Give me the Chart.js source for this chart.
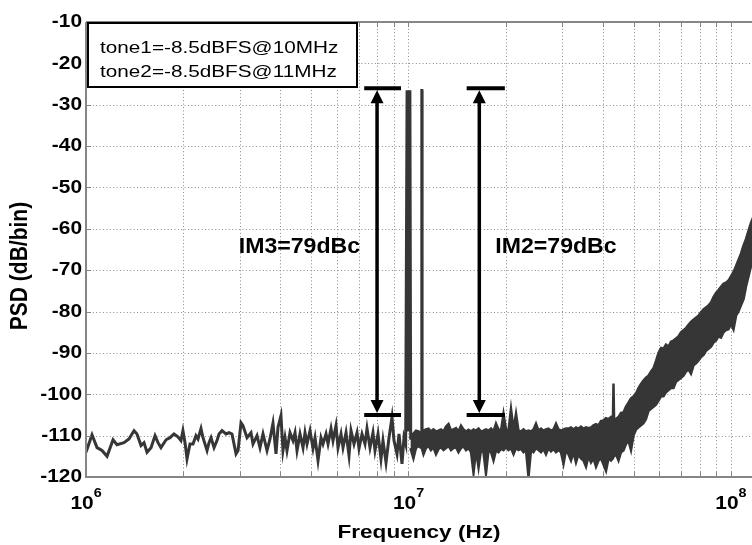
<!DOCTYPE html>
<html>
<head>
<meta charset="utf-8">
<title>PSD two-tone test</title>
<script src="https://cdn.jsdelivr.net/npm/chart.js@4.4.1/dist/chart.umd.min.js"></script>
<style>
  html, body { margin: 0; padding: 0; background: #fff; }
  #wrap { position: relative; width: 752px; height: 545px; }
</style>
</head>
<body>
<div id="wrap"><canvas id="psd"></canvas></div>
<script>
// axis ticks
const xGridHz = [1e6, 2e6, 3e6, 4e6, 5e6, 6e6, 7e6, 8e6, 9e6,
                 1e7, 2e7, 3e7, 4e7, 5e7, 6e7, 7e7, 8e7, 9e7, 1e8];
const xLabelExp = [6, 7, 8];
const yTicksDb = [-120, -110, -100, -90, -80, -70, -60, -50, -40, -30, -20, -10];

// sparse part of the spectrum (1 MHz .. just past the 10 MHz tone)
const traceFreqMHz = [1.000, 1.044, 1.082, 1.121, 1.162, 1.213, 1.248, 1.311, 1.359, 1.409,
  1.439, 1.481, 1.513, 1.546, 1.591, 1.637, 1.672, 1.708, 1.771, 1.822,
  1.874, 1.928, 1.970, 1.998, 2.028, 2.057, 2.101, 2.147, 2.193, 2.225,
  2.273, 2.306, 2.373, 2.407, 2.442, 2.495, 2.548, 2.585, 2.641, 2.717,
  2.776, 2.836, 2.919, 2.961, 3.025, 3.068, 3.157, 3.248, 3.295, 3.391,
  3.464, 3.539, 3.642, 3.720, 3.800, 3.883, 3.939, 4.023, 4.081, 4.141,
  4.200, 4.291, 4.384, 4.448, 4.512, 4.609, 4.709, 4.777, 4.846, 4.951,
  5.058, 5.131, 5.242, 5.355, 5.432, 5.550, 5.630, 5.751, 5.834, 5.960,
  6.046, 6.177, 6.266, 6.402, 6.540, 6.634, 6.778, 6.925, 7.024, 7.176,
  7.331, 7.437, 7.597, 7.761, 7.874, 8.044, 8.218, 8.336, 8.518, 8.701,
  8.889, 9.017, 9.213, 9.345, 9.547, 9.684, 9.80, 9.90, 10.0, 10.10, 10.16];
const traceDb = [-114, -109.8, -112.9, -113.6, -115, -111, -112.2, -111.7, -110.8, -108.8,
  -109.6, -112.4, -111.7, -114, -112.9, -110, -111.7, -112.9, -111, -110.5,
  -109.6, -110.3, -111.2, -108.8, -111.7, -115.6, -112, -112, -110, -110.8,
  -108.3, -110.5, -113.6, -111.7, -110.5, -112.9, -111.2, -109.6, -108.8, -109.6,
  -109.3, -109.6, -114.4, -113.6, -106.9, -107.6, -110.5, -109.3, -112, -110,
  -112.9, -109.6, -113.6, -110.8, -107, -114.4, -108, -105.2, -113.6, -110.5,
  -113.6, -109.3, -111.2, -109.3, -113.6, -109.6, -112.9, -109.3, -112, -108.8,
  -113.1, -110.5, -116, -110.5, -112, -109.6, -112, -108.3, -111.2, -107.6,
  -112.9, -109.6, -112.9, -109.3, -114.8, -108.8, -112, -109.3, -113.1, -109.6,
  -112, -108.3, -112.9, -109.3, -113.6, -109.6, -115.6, -111.2, -116.5, -110.5,
  -105.6, -111.2, -114.4, -109.6, -116.8, -110.5, -112, -26.5, -109, -26.5, -111];

// dense part of the spectrum drawn as upper / lower envelope of the bins
const bandFreqMHz = [10.14, 10.36, 10.55, 10.74, 10.96, 10.98, 11.02, 11.04, 11.13, 11.33,
  11.54, 11.74, 11.95, 12.17, 12.39, 12.61, 12.84, 13.07, 13.31, 13.55,
  13.79, 14.04, 14.29, 14.55, 14.81, 15.08, 15.35, 15.63, 15.91, 16.19,
  16.49, 16.78, 17.08, 17.39, 17.71, 18.03, 18.35, 18.68, 19.02, 19.36,
  19.71, 20.06, 20.42, 20.79, 21.17, 21.55, 21.93, 22.33, 22.73, 23.14,
  23.56, 23.98, 24.41, 24.85, 25.30, 25.76, 26.22, 26.69, 27.17, 27.66,
  28.16, 28.67, 29.19, 29.71, 30.25, 30.79, 31.35, 31.91, 32.49, 33.07,
  33.67, 34.27, 34.89, 35.52, 36.16, 36.81, 37.47, 38.15, 38.83, 39.53,
  40.25, 40.97, 41.71, 42.46, 43.05, 43.22, 43.40, 44.00, 44.80, 45.60,
  46.42, 47.26, 48.11, 48.98, 49.86, 50.76, 51.67, 52.60, 53.55, 54.51,
  55.50, 56.50, 57.51, 58.54, 59.60, 60.68, 61.77, 62.89, 64.02, 65.17,
  66.34, 67.54, 68.75, 69.99, 71.25, 72.53, 73.84, 75.17, 76.53, 77.90,
  79.31, 80.74, 82.19, 83.67, 85.18, 86.71, 88.28, 89.87, 91.48, 93.13,
  94.81, 96.52, 98.25, 100.0, 101.8, 103.7, 105.5, 107.4, 109.4, 111.3,
  113.3, 115.4, 117.5];
const bandTopDb = [-110, -109.5, -108.8, -109, -109.5, -26.5, -26.5, -109.5, -108.8, -108.5,
  -108.3, -109, -108.5, -109, -108.8, -108.5, -109, -107.8, -107.2, -108.8,
  -108.5, -108.2, -109, -107.6, -108.5, -109, -108.6, -109, -108.5, -108.8,
  -108.3, -109, -108.8, -108.5, -108.8, -108.3, -109, -107.1, -108.5, -108.8,
  -104.7, -108.5, -108.8, -103.5, -108.5, -104.7, -108.8, -109, -108.5, -109,
  -108.8, -109, -108.5, -107.1, -108.8, -108.3, -108.8, -108.5, -108.3, -108.8,
  -108.5, -107.1, -108.5, -108.8, -108.5, -108.3, -108.3, -108, -108.5, -108,
  -108.3, -107.8, -108.3, -108, -108.2, -108, -107.5, -107.2, -107.5, -106.5,
  -106.3, -105.8, -106, -105.5, -106, -97.4, -106, -106, -105.5, -104.5,
  -104.4, -103, -102, -101, -100.5, -99.8, -98.5, -97.5, -96.7, -96,
  -95.5, -94.5, -93.7, -92, -90, -88.8, -89, -88, -88.5, -87.3,
  -87, -86.5, -86, -85, -84.5, -84, -83.2, -82.5, -82, -81.5,
  -81, -80.2, -79.5, -79, -78.5, -77.8, -76.5, -75.5, -74.8, -74,
  -73.3, -73, -72.5, -71.5, -70.5, -69, -67.5, -66, -64, -62.5,
  -60.5, -58.5, -57];
const bandBottomDb = [-113, -115.5, -113, -112.5, -113, -113, -113, -113.5, -114.5, -113,
  -112.5, -113.5, -112.8, -114.5, -113.2, -112.8, -113.5, -113, -112.5, -113.5,
  -113, -112.8, -114, -113, -112.6, -113.5, -113, -114, -119, -113.5,
  -117.7, -113.5, -114, -119.2, -113.5, -114, -116, -113.5, -114, -113.2,
  -113.5, -112.8, -113.5, -113, -114.5, -113, -113.5, -113.2, -114, -113.5,
  -120, -113.5, -114, -113, -113.5, -114, -113.2, -114.5, -113, -113.8,
  -113.2, -114, -113.5, -114, -116.8, -113.5, -114.5, -116, -114, -116.5,
  -114.5, -115.5, -116, -117.5, -115, -116.5, -115.5, -117.5, -116, -115.5,
  -117, -118.5, -115.5, -116, -115.5, -115, -115, -114.5, -116, -114,
  -113.6, -112, -111.2, -113.5, -110, -108.5, -108, -107.5, -107, -106,
  -104, -103.5, -103, -102.5, -101.5, -100.5, -100.5, -99.5, -99, -98.5,
  -98.5, -97, -96.5, -96, -95.5, -94.5, -94, -95, -93, -92.5,
  -91.8, -91, -90.5, -89.5, -89, -88.5, -87.5, -87, -86, -86.3,
  -85, -84.5, -84.3, -83, -84.3, -81, -80, -78.5, -77, -74,
  -71.5, -69, -67.5];

// intermodulation markers
const markerLabels = ['IM3=79dBc', 'IM2=79dBc'];
const markerFreqMHz = [7.99, 16.58];
const capStartMHz = [7.29, 15.15];
const capEndMHz = [9.48, 19.9];
const markerTopDb = [-26, -26];
const markerBottomDb = [-105, -105];
const markerTextDb = [-64.5, -64.5];

const noteLines = ['tone1=-8.5dBFS@10MHz', 'tone2=-8.5dBFS@11MHz'];

const traceColor = '#363636';
const axisColor = '#858585';
const FONT = '"Liberation Sans", Arial, sans-serif';

function pts(freqs, vals) {
  return freqs.map((f, i) => ({ x: f * 1e6, y: vals[i] }));
}

function text(ctx, str, x, y, font, sx, align, base) {
  ctx.save();
  ctx.font = font;
  ctx.textAlign = align || 'left';
  ctx.textBaseline = base || 'alphabetic';
  ctx.translate(x, y);
  ctx.scale(sx, 1);
  ctx.fillText(str, 0, 0);
  ctx.restore();
}

// dotted matlab-style grid under the data
const dottedGrid = {
  id: 'dottedGrid',
  beforeDatasetsDraw(chart) {
    const ctx = chart.ctx;
    const ca = chart.chartArea;
    const xs = chart.scales.x, ys = chart.scales.y;
    ctx.save();
    ctx.strokeStyle = '#8a8a8a';
    ctx.lineWidth = 1;
    ctx.setLineDash([1, 2.4]);
    ctx.beginPath();
    xGridHz.forEach(v => {
      const px = Math.round(xs.getPixelForValue(v)) + 0.5;
      ctx.moveTo(px, ca.top); ctx.lineTo(px, ca.bottom);
    });
    yTicksDb.forEach(v => {
      const py = Math.round(ys.getPixelForValue(v)) + 0.5;
      ctx.moveTo(ca.left, py); ctx.lineTo(ca.right, py);
    });
    ctx.stroke();
    ctx.restore();
  }
};

const decor = {
  id: 'decor',
  afterDatasetsDraw(chart) {
    const ctx = chart.ctx;
    const ca = chart.chartArea;
    const xs = chart.scales.x, ys = chart.scales.y;
    ctx.save();
    ctx.fillStyle = '#000';

    // axes box (left, bottom, top)
    ctx.strokeStyle = axisColor;
    ctx.lineWidth = 2;
    ctx.beginPath();
    ctx.moveTo(ca.left, ca.top); ctx.lineTo(ca.left, ca.bottom); ctx.lineTo(ca.right, ca.bottom);
    ctx.moveTo(ca.left, ca.top); ctx.lineTo(ca.right, ca.top);
    ctx.stroke();
    ctx.lineWidth = 1;
    ctx.beginPath();
    xGridHz.forEach(v => {
      const px = Math.round(xs.getPixelForValue(v)) + 0.5;
      ctx.moveTo(px, ca.bottom); ctx.lineTo(px, ca.bottom - 5);
      ctx.moveTo(px, ca.top); ctx.lineTo(px, ca.top + 5);
    });
    yTicksDb.forEach(v => {
      const py = Math.round(ys.getPixelForValue(v)) + 0.5;
      ctx.moveTo(ca.left, py); ctx.lineTo(ca.left + 5, py);
    });
    ctx.stroke();

    // markers
    ctx.strokeStyle = '#000';
    ctx.fillStyle = '#000';
    markerLabels.forEach((lab, i) => {
      const x = xs.getPixelForValue(markerFreqMHz[i] * 1e6);
      const x0 = xs.getPixelForValue(capStartMHz[i] * 1e6);
      const x1 = xs.getPixelForValue(capEndMHz[i] * 1e6);
      const y0 = ys.getPixelForValue(markerTopDb[i]);
      const y1 = ys.getPixelForValue(markerBottomDb[i]);
      ctx.lineWidth = 4;
      ctx.beginPath();
      ctx.moveTo(x0, y0); ctx.lineTo(x1, y0);
      ctx.moveTo(x0, y1); ctx.lineTo(x1, y1);
      ctx.stroke();
      ctx.lineWidth = 3.5;
      ctx.beginPath();
      ctx.moveTo(x, y0 + 10); ctx.lineTo(x, y1 - 10);
      ctx.stroke();
      ctx.beginPath();
      ctx.moveTo(x, y0 + 2); ctx.lineTo(x - 6.5, y0 + 15); ctx.lineTo(x + 6.5, y0 + 15); ctx.closePath();
      ctx.moveTo(x, y1 - 2); ctx.lineTo(x - 6.5, y1 - 15); ctx.lineTo(x + 6.5, y1 - 15); ctx.closePath();
      ctx.fill();
      const ty = ys.getPixelForValue(markerTextDb[i]);
      if (i === 0) text(ctx, lab, x - 17, ty, 'bold 22px ' + FONT, 1.05, 'right', 'middle');
      else text(ctx, lab, x + 16, ty, 'bold 22px ' + FONT, 1.05, 'left', 'middle');
    });

    // note box
    ctx.fillStyle = '#fff';
    ctx.fillRect(ca.left + 2, ca.top + 1, 269, 64);
    ctx.strokeStyle = '#000';
    ctx.lineWidth = 2;
    ctx.strokeRect(ca.left + 2, ca.top + 1, 269, 64);
    ctx.fillStyle = '#000';
    noteLines.forEach((t, i) => {
      text(ctx, t, ca.left + 14, ca.top + 31 + i * 24, '17px ' + FONT, 1.22, 'left');
    });

    // tick labels
    yTicksDb.forEach(v => {
      text(ctx, String(v), ca.left - 4, ys.getPixelForValue(v), 'bold 19px ' + FONT, 1.1, 'right', 'middle');
    });
    xLabelExp.forEach(e => {
      const px = xs.getPixelForValue(Math.pow(10, e));
      ctx.font = 'bold 19px ' + FONT;
      const wBase = ctx.measureText('10').width * 1.1;
      ctx.font = 'bold 13px ' + FONT;
      const wSup = ctx.measureText(String(e)).width * 1.1;
      const left = px - (wBase + wSup) / 2;
      text(ctx, '10', left, ca.bottom + 32, 'bold 19px ' + FONT, 1.1, 'left');
      text(ctx, String(e), left + wBase, ca.bottom + 20, 'bold 13px ' + FONT, 1.1, 'left');
    });

    // axis titles
    text(ctx, 'Frequency (Hz)', (ca.left + ca.right) / 2, ca.bottom + 61, 'bold 18.5px ' + FONT, 1.22, 'center');
    ctx.save();
    ctx.translate(21, 266);
    ctx.rotate(-Math.PI / 2);
    ctx.scale(1, 1.1);
    ctx.font = 'bold 21px ' + FONT;
    ctx.textAlign = 'center';
    ctx.textBaseline = 'middle';
    ctx.fillText('PSD (dB/bin)', 0, 0);
    ctx.restore();

    ctx.restore();
  }
};

new Chart(document.getElementById('psd'), {
  type: 'line',
  data: {
    datasets: [
      { label: 'PSD', data: pts(traceFreqMHz, traceDb), borderColor: traceColor, borderWidth: 3,
        pointRadius: 0, tension: 0, fill: false },
      { label: 'PSD upper', data: pts(bandFreqMHz, bandTopDb), borderColor: traceColor, borderWidth: 2.5,
        backgroundColor: traceColor, pointRadius: 0, tension: 0, fill: '+1' },
      { label: 'PSD lower', data: pts(bandFreqMHz, bandBottomDb), borderColor: traceColor, borderWidth: 2.5,
        pointRadius: 0, tension: 0, fill: false }
    ]
  },
  options: {
    responsive: true,
    maintainAspectRatio: false,
    animation: false,
    layout: { padding: { left: 86, top: 22, right: 0, bottom: 68 } },
    plugins: { legend: { display: false }, tooltip: { enabled: false } },
    scales: {
      x: {
        type: 'logarithmic', min: 1e6, max: 1.162e8,
        afterBuildTicks: s => { s.ticks = xGridHz.map(v => ({ value: v })); },
        ticks: { display: false },
        grid: { display: false, drawTicks: false },
        border: { display: false }
      },
      y: {
        type: 'linear', min: -120, max: -10,
        afterBuildTicks: s => { s.ticks = yTicksDb.map(v => ({ value: v })); },
        ticks: { display: false },
        grid: { display: false, drawTicks: false },
        border: { display: false }
      }
    }
  },
  plugins: [dottedGrid, decor]
});
</script>
</body>
</html>
